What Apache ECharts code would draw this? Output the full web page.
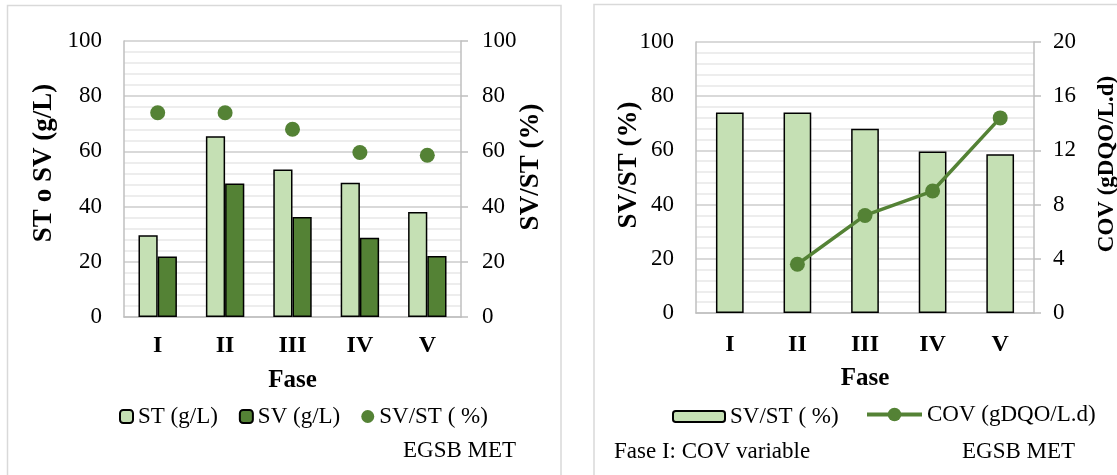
<!DOCTYPE html>
<html>
<head>
<meta charset="utf-8">
<script src="https://cdn.jsdelivr.net/npm/echarts@6/dist/echarts.min.js"></script>
<style>
  html, body { margin: 0; padding: 0; background: #fff; }
  #chart { width: 1117px; height: 475px; }
</style>
</head>
<body>
<div id="chart"></div>
<script>
// Phases of the EGSB reactor run
const fases = ['I', 'II', 'III', 'IV', 'V'];
// Total and volatile solids (g/L)
const st = [29.6, 65.5, 53.4, 48.6, 38.0];
const sv = [21.9, 48.4, 36.2, 28.7, 22.1];
// Volatile fraction SV/ST (%)
const svSt = [74.0, 74.0, 68.0, 59.6, 58.6];
// Organic loading rate (gDQO/L.d); phase I had a variable load
const cov = [null, 3.6, 7.2, 9.0, 14.4];
// Axis tick ranges
const pctTicks = { min: 0, max: 100, interval: 20 };
const covTicks = { min: 0, max: 20, interval: 4 };

const FONT = 'Liberation Serif, Times New Roman, serif';
const LIGHT = '#c5e0b4';
const DARK = '#548235';
const AXIS_GREY = '#bfbfbf';
const GRID_GREY = '#d9d9d9';
const MINOR_GREY = '#ededed';

const tickLabel = { fontFamily: FONT, fontSize: 23, color: '#000' };

function catAxis(gridIndex, labelMargin, nameGap) {
  return {
    type: 'category', gridIndex, data: fases,
    axisLine: { show: true, lineStyle: { color: AXIS_GREY, width: 1.5 } },
    axisTick: { show: false },
    axisLabel: { margin: labelMargin, fontFamily: FONT, fontSize: 24, fontWeight: 'bold', color: '#000' },
    name: 'Fase', nameLocation: 'middle', nameGap,
    nameTextStyle: { fontFamily: FONT, fontSize: 25, fontWeight: 'bold', color: '#000' }
  };
}

function leftValueAxis(gridIndex) {
  return Object.assign({
    type: 'value', gridIndex, position: 'left',
    axisLine: { show: true, lineStyle: { color: AXIS_GREY, width: 1.5 } },
    axisTick: { show: false },
    axisLabel: Object.assign({ margin: 22 }, tickLabel),
    splitLine: { show: true, lineStyle: { color: GRID_GREY, width: 2 } },
    minorTick: { show: false, splitNumber: 5 },
    minorSplitLine: { show: true, lineStyle: { color: MINOR_GREY, width: 2 } }
  }, pctTicks);
}

function rightValueAxis(gridIndex, ticks, labelMargin) {
  return Object.assign({
    type: 'value', gridIndex, position: 'right',
    axisLine: { show: true, lineStyle: { color: AXIS_GREY, width: 1.5 } },
    axisTick: { show: true, inside: false, length: 7, lineStyle: { color: AXIS_GREY, width: 1.5 } },
    axisLabel: Object.assign({ margin: labelMargin }, tickLabel),
    splitLine: { show: false }
  }, ticks);
}

// Vertical axis titles, reading bottom to top
function axisTitle(text, x, y, size) {
  return {
    type: 'text', x, y, rotation: Math.PI / 2,
    style: {
      text, font: 'bold ' + size + 'px ' + FONT, fill: '#000',
      align: 'center', verticalAlign: 'middle'
    }
  };
}

function note(text, x, y) {
  return {
    type: 'text', x, y,
    style: { text, font: '23px ' + FONT, fill: '#000', verticalAlign: 'middle' }
  };
}

const legendText = { fontFamily: FONT, fontSize: 23, color: '#000' };
const legendNames = { 'SV/ST ( %) ': 'SV/ST ( %)' };
const legendFormatter = n => legendNames[n] || n;

const option = {
  animation: false,
  backgroundColor: '#fff',
  grid: [
    { left: 124, right: 1117 - 461, top: 41, bottom: 475 - 317 },
    { left: 696, right: 1117 - 1034, top: 42, bottom: 475 - 313 }
  ],
  xAxis: [
    catAxis(0, 17, 51),
    catAxis(1, 20, 53)
  ],
  yAxis: [
    leftValueAxis(0),
    rightValueAxis(0, pctTicks, 21),
    leftValueAxis(1),
    rightValueAxis(1, covTicks, 19)
  ],
  legend: [
    {
      data: ['ST (g/L)', 'SV (g/L)', 'SV/ST ( %)'],
      left: 114, top: 400, itemWidth: 13, itemHeight: 13, itemGap: 21,
      textStyle: legendText, selectedMode: false
    },
    {
      data: ['SV/ST ( %) '],
      left: 667, top: 400, itemWidth: 52, itemHeight: 11,
      formatter: legendFormatter,
      textStyle: legendText, selectedMode: false
    },
    {
      data: ['COV (gDQO/L.d)'],
      left: 860, top: 398, itemWidth: 55, itemHeight: 17,
      lineStyle: { width: 4 },
      textStyle: legendText, selectedMode: false
    }
  ],
  series: [
    {
      name: 'ST (g/L)', type: 'bar', xAxisIndex: 0, yAxisIndex: 0, data: st,
      barGap: '0%', barCategoryGap: '43%',
      itemStyle: { color: LIGHT, borderColor: '#000', borderWidth: 1.5 }
    },
    {
      name: 'SV (g/L)', type: 'bar', xAxisIndex: 0, yAxisIndex: 0, data: sv,
      barGap: '0%', barCategoryGap: '43%',
      itemStyle: { color: DARK, borderColor: '#000', borderWidth: 1.5 }
    },
    {
      name: 'SV/ST ( %)', type: 'scatter', xAxisIndex: 0, yAxisIndex: 1, data: svSt,
      symbol: 'circle', symbolSize: 15,
      itemStyle: { color: DARK, opacity: 1 }
    },
    {
      name: 'SV/ST ( %) ', type: 'bar', xAxisIndex: 1, yAxisIndex: 2, data: svSt,
      barCategoryGap: '59%',
      itemStyle: { color: LIGHT, borderColor: '#000', borderWidth: 1.5 }
    },
    {
      name: 'COV (gDQO/L.d)', type: 'line', xAxisIndex: 1, yAxisIndex: 3, data: cov,
      symbol: 'circle', symbolSize: 15, connectNulls: false,
      lineStyle: { color: DARK, width: 3.5 },
      itemStyle: { color: DARK }
    }
  ],
  graphic: [
    { type: 'rect', shape: { x: 7.5, y: 5.5, width: 553.5, height: 480 },
      style: { fill: 'none', stroke: '#d9d9d9', lineWidth: 1.5 }, silent: true, z: -1 },
    { type: 'rect', shape: { x: 594, y: 4.5, width: 540, height: 480 },
      style: { fill: 'none', stroke: '#d9d9d9', lineWidth: 1.5 }, silent: true, z: -1 },
    axisTitle('ST o SV (g/L)', 44, 163, 27),
    axisTitle('SV/ST (%)', 531, 167, 27),
    axisTitle('SV/ST (%)', 629, 165, 27),
    axisTitle('COV (gDQO/L.d)', 1107, 164, 23),
    note('EGSB MET', 403, 451),
    note('Fase I: COV variable', 614, 452),
    note('EGSB MET', 962, 452)
  ]
};

const chart = echarts.init(document.getElementById('chart'), null, { renderer: 'canvas' });
chart.setOption(option);
</script>
</body>
</html>
